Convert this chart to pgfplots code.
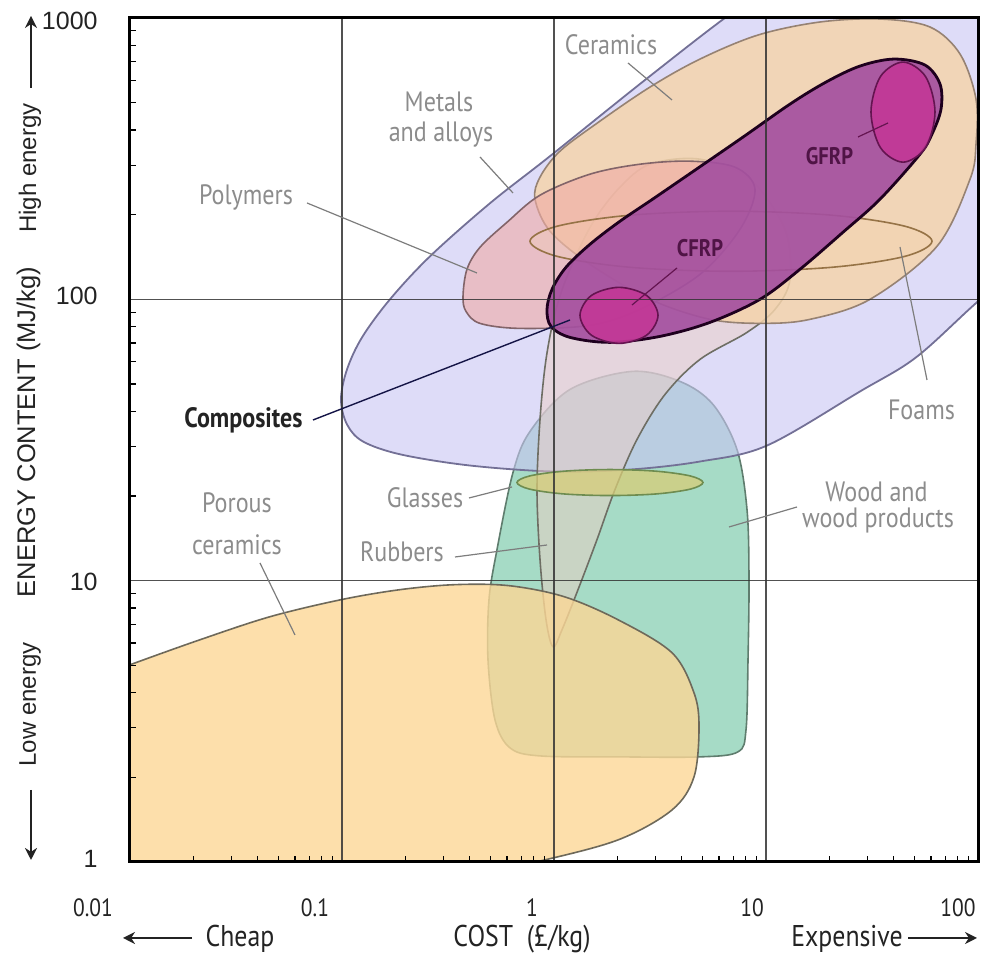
\documentclass[border=0pt]{standalone}
\usepackage{fontspec}
\usepackage{pgfplots}
\pgfplotsset{compat=1.18}
\usetikzlibrary{arrows.meta}
\newfontfamily\labfont[FakeStretch=0.86]{PT Sans}
\newfontfamily\arialfont{Liberation Sans}
\definecolor{metalfill}{RGB}{200,197,243}
\definecolor{metalline}{RGB}{115,112,150}
\definecolor{woodfill}{RGB}{166,219,198}
\definecolor{woodline}{RGB}{95,125,110}
\definecolor{rubberfill}{RGB}{236,206,196}
\definecolor{rubberline}{RGB}{110,110,100}
\definecolor{ceramfill}{RGB}{245,212,172}
\definecolor{ceramline}{RGB}{150,130,115}
\definecolor{polyfill}{RGB}{240,170,165}
\definecolor{polyline}{RGB}{130,100,105}
\definecolor{foamfill}{RGB}{245,212,172}
\definecolor{foamline}{RGB}{150,115,70}
\definecolor{glassfill}{RGB}{215,205,120}
\definecolor{glassline}{RGB}{110,140,80}
\definecolor{porousfill}{RGB}{252,215,150}
\definecolor{porousline}{RGB}{110,105,90}
\definecolor{compfill}{RGB}{165,80,160}
\definecolor{compline}{RGB}{30,0,30}
\definecolor{frpfill}{RGB}{195,55,150}
\definecolor{frpline}{RGB}{100,20,80}
\definecolor{labgray}{RGB}{140,140,140}
\definecolor{leadgray}{RGB}{125,125,125}
\definecolor{darktext}{RGB}{35,35,35}
\definecolor{frptext}{RGB}{80,20,70}
\definecolor{compleader}{RGB}{20,20,70}
\begin{document}
\begin{tikzpicture}
\useasboundingbox (0pt,0pt) rectangle (493pt,481pt);
\begin{axis}[
  at={(65pt,50pt)}, anchor=south west,
  scale only axis, width=424pt, height=422pt,
  xmode=log, ymode=log,
  xmin=0.01, xmax=100, ymin=1, ymax=1000,
  xtick={0.01,0.1,1,10,100}, ytick={1,10,100,1000},
  minor xtick={0.02,0.03,0.04,0.05,0.06,0.07,0.08,0.09,0.2,0.3,0.4,0.5,0.6,0.7,0.8,0.9,2,3,4,5,6,7,8,9,20,30,40,50,60,70,80,90},
  minor ytick={2,3,4,5,6,7,8,9,20,30,40,50,60,70,80,90,200,300,400,500,600,700,800,900},
  xticklabels={}, yticklabels={},
  tick pos=left, tick align=inside,
  major tick length=0pt, minor tick length=2.8pt,
  minor tick style={line width=0.6pt, black},
  grid=major, major grid style={line width=0.8pt, black!80, opacity=0.85},
  axis line style={line width=1.5pt},
  axis on top,
]
% Wood and wood products
\addplot[smooth cycle, tension=0.55, fill=woodfill, draw=woodline, line width=0.8pt] coordinates {
(2.333,55.43) (3.929,51.07) (5.623,42.30) (7.297,29.26) (8.136,17.89) (8.314,10.08) (8.225,5.234) (8.047,2.950) (7.377,2.463) (4.884,2.364) (2.048,2.364) (0.8590,2.383) (0.6202,2.545) (0.5269,3.201) (0.4883,5.234) (0.4936,8.557) (0.5384,12.89) (0.6406,24.23) (0.7704,33.90) (1.190,47.83)};
% Metals and alloys
\addplot[smooth cycle, tension=0.55, fill=metalfill, fill opacity=0.6, draw=metalline, line width=0.9pt] coordinates {
(0.0989,44.07) (0.1056,56.35) (0.1243,73.24) (0.1684,100) (0.2601,142.2) (0.4991,219.6) (0.9574,322.8) (2.837,621.9) (7.541,1094) (20.04,1761) (82.28,2443) (302.8,1622) (376.3,437.0) (196.1,150.6) (100,98.38) (50.99,62.18) (27.76,47.05) (10.11,30.22) (4.884,26.52) (2.283,24.83) (1.0,24.43) (0.4016,25.66) (0.1898,28.08) (0.1257,31.23) (0.1056,35.92)};
% Rubbers
\addplot[smooth cycle, tension=0.55, fill=rubberfill, fill opacity=0.5, draw=rubberline, line width=0.8pt] coordinates {
(0.9892,5.822) (0.9169,7.264) (0.8590,11.88) (0.8314,21.08) (0.8590,37.41) (0.9169,61.17) (1.022,92.13) (1.190,127.9) (1.528,187.9) (2.048,250.4) (2.837,302.2) (4.884,314.9) (8.404,267.3) (12.29,177.5) (12.98,117.8) (11.03,92.13) (8.136,76.31) (4.884,61.17) (3.339,45.91) (2.463,31.76) (1.940,21.08) (1.595,13.99) (1.298,9.290) (1.091,6.693)};
% Ceramics
\addplot[smooth cycle, tension=0.55, fill=ceramfill, fill opacity=0.85, draw=ceramline, line width=0.8pt] coordinates {
(0.8137,226.9) (0.8590,271.8) (1.067,336.3) (1.648,430.0) (2.837,568.2) (4.884,714.6) (9.169,869.9) (17.98,967.8) (34.49,991.7) (59.36,929.0) (82.28,744.5) (97.86,514.9) (97.86,356.1) (91.69,267.3) (64.07,154.4) (30.94,100) (16.12,84.89) (9.678,82.15) (5.443,84.89) (2.837,100) (1.478,133.2) (0.9574,174.6)};
% Polymers
\addplot[smooth cycle, tension=0.55, fill=polyfill, fill opacity=0.6, draw=polyline, line width=0.8pt] coordinates {
(0.3723,102.5) (0.3887,127.9) (0.4476,153.1) (0.6004,187.9) (0.8590,234.5) (1.478,278.5) (2.545,302.2) (4.380,309.8) (7.141,295.0) (8.874,246.3) (7.541,177.5) (4.884,122.7) (2.545,92.13) (1.478,80.81) (0.6913,78.85) (0.4476,82.14) (0.3845,90.64)};
% Foams
\addplot[smooth cycle, tension=0.55, fill=foamfill, fill opacity=0.25, draw=foamline, line width=0.8pt] coordinates {
(60.67,160.9) (45.26,181.9) (20.48,199.1) (6.838,205.7) (2.283,199.1) (1.033,181.9) (0.7704,160.9) (1.033,142.2) (2.283,130.0) (6.838,125.8) (20.48,130.0) (45.26,142.2)};
% Glasses
\addplot[smooth cycle, tension=0.55, fill=glassfill, fill opacity=0.75, draw=glassline, line width=0.8pt] coordinates {
(5.044,22.33) (4.404,23.55) (3.045,24.49) (1.838,24.83) (1.109,24.49) (0.7662,23.55) (0.6689,22.33) (0.7662,21.16) (1.109,20.34) (1.838,20.07) (3.045,20.34) (4.404,21.16)};
% Porous ceramics
\addplot[smooth cycle, tension=0.55, fill=porousfill, fill opacity=0.8, draw=porousline, line width=0.8pt] coordinates {
(0.006476,4.444) (0.01,5.024) (0.02139,6.166) (0.04575,7.445) (0.0989,8.557) (0.1878,9.290) (0.3412,9.678) (0.6135,9.598) (1.115,8.773) (2.004,7.263) (3.602,5.543) (4.575,3.994) (4.831,3.022) (4.575,2.007) (3.602,1.531) (2.004,1.198) (0.8225,1.0) (0.3231,0.8630) (0.06338,0.7323) (0.006476,0.7323)};
% Composites
\addplot[smooth cycle, tension=0.55, fill=compfill, fill opacity=0.92, draw=compline, line width=1.4pt] coordinates {
(0.9268,92.13) (0.9786,108.5) (1.139,130.0) (1.478,156.9) (2.048,189.5) (3.061,232.6) (7.541,371.0) (12.98,494.3) (19.19,591.9) (27.76,674.9) (40.16,714.6) (56.23,680.4) (66.20,582.3) (66.92,474.6) (60.67,386.6) (53.27,328.1) (34.49,226.9) (23.08,173.2) (14.47,127.9) (9.369,100) (5.443,82.81) (3.162,73.84) (1.838,70.31) (1.190,73.24) (0.9678,80.14)};
% CFRP
\addplot[smooth cycle, tension=0.55, fill=frpfill, fill opacity=0.9, draw=frpline, line width=0.8pt] coordinates {
(3.095,87.73) (2.734,103.2) (2.026,110.3) (1.501,103.2) (1.326,87.73) (1.501,74.57) (2.026,69.73) (2.734,74.57)};
% GFRP
\addplot[smooth cycle, tension=0.55, fill=frpfill, fill opacity=0.9, draw=frpline, line width=0.8pt] coordinates {
(62.68,463.0) (56.59,618.8) (44.29,697.3) (34.64,618.8) (31.28,463.0) (34.64,346.3) (44.29,307.3) (56.59,346.3)};
\end{axis}
% region labels
\tikzset{lab/.style={font=\labfont\fontsize{14}{16}\selectfont, text=labgray, anchor=base, inner sep=0pt},
  lead/.style={draw=leadgray, line width=0.6pt}}
\node[lab] at (305.5pt,453.5pt) {Ceramics};
\draw[lead] (314pt,449.5pt) -- (336pt,431pt);
\node[lab] at (219.5pt,425pt) {Metals};
\node[lab] at (220.5pt,410pt) {and alloys};
\draw[lead] (240pt,402.5pt) -- (256.5pt,384.5pt);
\node[lab] at (123pt,378.5pt) {Polymers};
\draw[lead] (153.5pt,379.5pt) -- (238.5pt,344.5pt);
\node[lab, text=darktext, font=\labfont\bfseries\fontsize{14}{16}\selectfont] at (121.75pt,267pt) {Composites};
\draw[draw=compleader, line width=0.7pt] (156.5pt,271pt) -- (285pt,321pt);
\node[lab, text=frptext, font=\labfont\bfseries\fontsize{12}{14}\selectfont] at (350pt,352.5pt) {CFRP};
\draw[draw=frpline, line width=0.6pt] (338.5pt,347pt) -- (316pt,328.5pt);
\node[lab, text=frptext, font=\labfont\bfseries\fontsize{12}{14}\selectfont] at (414.75pt,398.5pt) {GFRP};
\draw[draw=frpline, line width=0.6pt] (429pt,412.5pt) -- (444pt,419.5pt);
\node[lab] at (460.75pt,271pt) {Foams};
\draw[lead] (463.5pt,291pt) -- (450pt,357.5pt);
\node[lab] at (212.5pt,227pt) {Glasses};
\draw[lead] (234.5pt,232pt) -- (256pt,237.5pt);
\node[lab] at (201pt,200pt) {Rubbers};
\draw[lead] (227.5pt,202.5pt) -- (273.5pt,208.5pt);
\node[lab] at (118.5pt,224.5pt) {Porous};
\node[lab] at (118.5pt,203.5pt) {ceramics};
\draw[lead] (130pt,199.5pt) -- (147.5pt,163.5pt);
\node[lab] at (438.25pt,230pt) {Wood and};
\node[lab] at (439pt,217pt) {wood products};
\draw[lead] (398.5pt,227.5pt) -- (364.5pt,217.5pt);
% x tick labels
\tikzset{xtl/.style={font=\labfont\fontsize{12.5}{14}\selectfont, text=darktext, anchor=base, inner sep=0pt}}
\node[xtl] at (46.5pt,22.5pt) {0.01};
\node[xtl] at (157.5pt,22.5pt) {0.1};
\node[xtl] at (266pt,22.5pt) {1};
\node[xtl] at (376pt,22.5pt) {10};
\node[xtl] at (479pt,22.5pt) {100};
% y tick labels
\tikzset{ytl/.style={font=\arialfont\fontsize{12.5}{14}\selectfont, text=darktext, anchor=east, inner sep=0pt}}
\node[ytl] at (49pt,470.5pt) {1000};
\node[ytl] at (49pt,333pt) {100};
\node[ytl] at (49pt,190pt) {10};
\node[ytl] at (49pt,51.5pt) {1};
% axis titles
\tikzset{xt/.style={font=\labfont\fontsize{15}{17}\selectfont, text=darktext, anchor=base, inner sep=0pt}}
\node[xt] at (261pt,7.5pt) {COST\ \ (£/kg)};
\node[xt] at (120pt,7.5pt) {Cheap};
\node[xt] at (423.5pt,7.5pt) {Expensive};
\draw[draw=darktext, line width=1.2pt, -{Stealth[length=6pt,width=6pt]}] (96pt,12pt) -- (61.5pt,12pt);
\draw[draw=darktext, line width=1.2pt, -{Stealth[length=6pt,width=6pt]}] (454pt,12pt) -- (488.5pt,12pt);
\tikzset{yt/.style={font=\arialfont\fontsize{12}{14}\selectfont, text=darktext, rotate=90, anchor=center, inner sep=0pt}}
\node[yt] at (15pt,397pt) {High energy};
\node[yt] at (15pt,128.75pt) {Low energy};
\node[yt, font=\arialfont\fontsize{12.75}{14}\selectfont] at (14.25pt,265pt) {ENERGY CONTENT (MJ/kg)};
\draw[draw=darktext, line width=1pt, -{Stealth[length=6pt,width=6pt]}] (15.5pt,437pt) -- (15.5pt,473pt);
\draw[draw=darktext, line width=1pt, -{Stealth[length=6pt,width=6pt]}] (15.5pt,86pt) -- (15.5pt,51pt);
\end{tikzpicture}
\end{document}
